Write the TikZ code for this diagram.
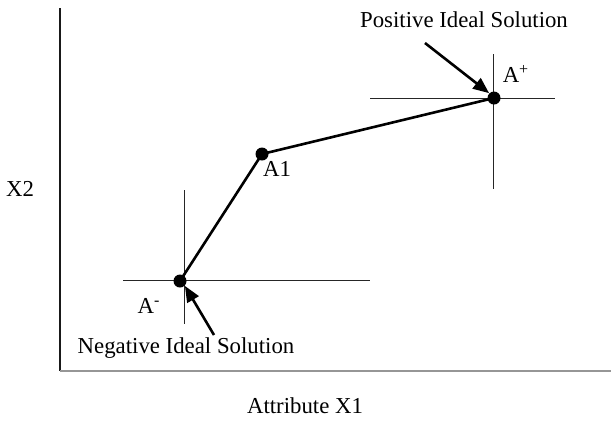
\documentclass[tikz,border=0pt]{standalone}
\usepackage{fontspec}
\setmainfont{Liberation Serif}
\usetikzlibrary{arrows.meta,positioning}
\definecolor{axisGray}{RGB}{150,150,150}

\begin{document}
\begin{tikzpicture}[
		x=0.5pt,y=-0.5pt,
		>={Triangle[length=8pt,width=6.5pt]},
		pt/.style={circle,fill=black,inner sep=0pt,minimum size=6.5pt},
		lbl/.style={font=\fontsize{11.4}{13}\selectfont,inner sep=1pt},
		ref/.style={line width=0.5pt,black!85},
		link/.style={line width=1.3pt},
		callout/.style={->,line width=1.3pt}
		]
		\useasboundingbox (0,0) rectangle (611,420);

		% axes
		\draw[line width=0.6pt,black!90] (60,8) -- (60,371);
		\draw[line width=0.8pt,axisGray] (60,371) -- (611,371);
		\node[lbl] (xlab) at (305,406) {Attribute X1};
		\node[lbl] (ylab) at (20,189) {X2};

		% reference crosses
		\draw[ref] (184,190) -- (184,324);
		\draw[ref] (123,280) -- (370,280);
		\draw[ref] (493,54) -- (493,189);
		\draw[ref] (370,98) -- (555,98);

		% points
		\node[pt] (neg) at (180,281) {};
		\node[pt] (mid) at (262,154) {};
		\node[pt] (pos) at (494,98) {};
		\draw[link] (neg.center) -- (mid.center) -- (pos.center);

		\node[lbl] (negl) at (149,306) {A\textsuperscript{-}};
		\node[lbl] (midl) at (277,169) {A1};
		\node[lbl] (posl) at (516,74) {A\textsuperscript{+}};

		% callouts
		\node[lbl] (ptxt) at (464,20) {Positive Ideal Solution};
		\node[lbl] (ntxt) at (186,348) {Negative Ideal Solution};
		\coordinate (ptail) at (425,43);
		\coordinate (ntail) at (214,335);
		\draw[callout] (ptail) -- (pos.north west);
		\draw[callout] (ntail) -- (neg.south east);
	\end{tikzpicture}
\end{document}
